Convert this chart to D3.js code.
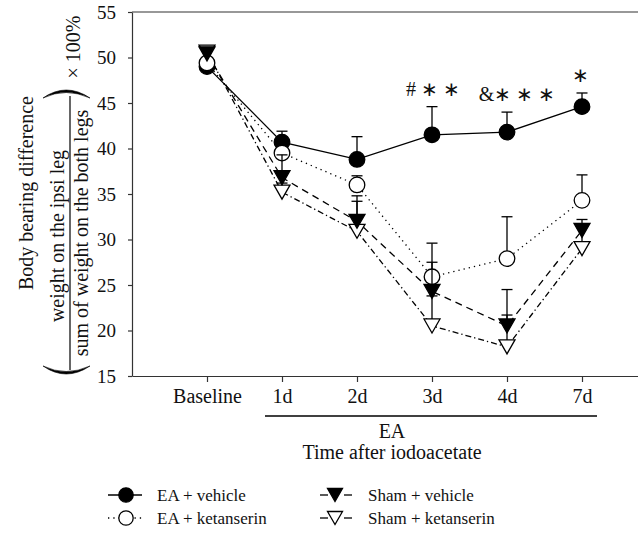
<!DOCTYPE html>
<html>
<head>
<meta charset="utf-8">
<script src="https://cdn.jsdelivr.net/npm/d3@7"></script>
<style>
  body { margin: 0; background: #fff; }
  text { font-family: "Liberation Serif", "Times New Roman", serif; fill: #111; }
</style>
</head>
<body>
<div id="chart"></div>
<script>
document.addEventListener("DOMContentLoaded", function() {

// Data (mean, upward error bar)
var days = ["Baseline", "1d", "2d", "3d", "4d", "7d"];
var eaVehicle      = [49.0, 40.7, 38.8, 41.5, 41.8, 44.6];
var eaVehicleErr   = [0.5, 1.2, 2.5, 3.1, 2.2, 1.5];
var eaKet          = [49.4, 39.5, 36.0, 25.9, 27.9, 34.3];
var eaKetErr       = [0.4, 1.0, 1.0, 3.7, 4.6, 2.8];
var shamVehicle    = [50.4, 36.8, 32.0, 24.3, 20.5, 31.0];
var shamVehicleErr = [0.5, 2.5, 2.8, 3.2, 4.0, 1.2];
var shamKet        = [50.6, 35.2, 30.9, 20.5, 18.2, 29.0];
var shamKetErr     = [0.6, 1.0, 3.3, 3.3, 3.5, 2.5];
var yTicks = [15, 20, 25, 30, 35, 40, 45, 50, 55];

var series = [
  {name: "EA + vehicle",      values: eaVehicle,   err: eaVehicleErr,   shape: "circle",   fill: "#000", dash: null},
  {name: "EA + ketanserin",   values: eaKet,       err: eaKetErr,       shape: "circle",   fill: "#fff", dash: "1.3,4"},
  {name: "Sham + ketanserin", values: shamKet,     err: shamKetErr,     shape: "triangle", fill: "#fff", dash: "6,3,1.3,3"},
  {name: "Sham + vehicle",    values: shamVehicle, err: shamVehicleErr, shape: "triangle", fill: "#000", dash: "7,5"}
];

var svg = d3.select("#chart")
  .append("svg")
  .attr("width", 638)
  .attr("height", 539);

var left = 132, top = 12, bottom = 376;

var x = d3.scalePoint()
  .domain(days)
  .range([left, 657])
  .padding(1);

var y = d3.scaleLinear()
  .domain([15, 55])
  .range([bottom, top]);

// axes
var yAxis = svg.append("g")
  .attr("transform", "translate(" + left + ",0)")
  .call(d3.axisLeft(y).tickValues(yTicks).tickSize(4).tickPadding(12).tickSizeOuter(0));
yAxis.selectAll("text").style("font-size", "19px");
yAxis.selectAll("path, line").attr("stroke", "#333").attr("stroke-width", 1.2);

var xAxis = svg.append("g")
  .attr("transform", "translate(0," + bottom + ")")
  .call(d3.axisBottom(x).tickSize(6).tickPadding(7).tickSizeOuter(0));
xAxis.selectAll("text").style("font-size", "20px");
xAxis.selectAll("path, line").attr("stroke", "#333").attr("stroke-width", 1.2);

// top frame line
svg.append("line")
  .attr("x1", left).attr("x2", 638)
  .attr("y1", top).attr("y2", top)
  .attr("stroke", "#333").attr("stroke-width", 1.2);

// connecting lines
var line = d3.line()
  .x(function(d, i) { return x(days[i]); })
  .y(function(d) { return y(d); });

series.forEach(function(s) {
  svg.append("path")
    .datum(s.values)
    .attr("d", line)
    .attr("fill", "none")
    .attr("stroke", "#000")
    .attr("stroke-width", 1.3)
    .attr("stroke-dasharray", s.dash);
});

function marker(g, shape, cx, cy, fill, r) {
  if (shape === "circle") {
    g.append("circle")
      .attr("cx", cx).attr("cy", cy).attr("r", r)
      .attr("fill", fill).attr("stroke", "#000").attr("stroke-width", 1.3);
  } else {
    var w = r + 0.5, h = r - 0.5;
    g.append("path")
      .attr("d", "M" + (cx - w) + "," + (cy - h) + "L" + (cx + w) + "," + (cy - h) + "L" + cx + "," + (cy + h) + "Z")
      .attr("fill", fill).attr("stroke", "#000").attr("stroke-width", 1.3)
      .attr("stroke-linejoin", "miter");
  }
}

// error bars + markers
var drawOrder = [0, 1, 2, 3];
drawOrder.forEach(function(k) {
  var s = series[k];
  var g = svg.append("g");
  s.values.forEach(function(v, i) {
    var cx = x(days[i]);
    g.append("line")
      .attr("x1", cx).attr("x2", cx)
      .attr("y1", y(v)).attr("y2", y(v + s.err[i]))
      .attr("stroke", "#000").attr("stroke-width", 1.3);
    g.append("line")
      .attr("x1", cx - 5.5).attr("x2", cx + 5.5)
      .attr("y1", y(v + s.err[i])).attr("y2", y(v + s.err[i]))
      .attr("stroke", "#000").attr("stroke-width", 1.3);
  });
  s.values.forEach(function(v, i) {
    marker(g, s.shape, x(days[i]), y(v), s.fill, s.shape === "circle" ? 7.8 : 7.5);
  });
});

// significance marks
var marks = [
  {day: "3d", value: eaVehicle[3] + eaVehicleErr[3], label: "# \u2217 \u2217", dx: 1},
  {day: "4d", value: eaVehicle[4] + eaVehicleErr[4], label: "&\u2217 \u2217 \u2217", dx: 10},
  {day: "7d", value: eaVehicle[5] + eaVehicleErr[5], label: "\u2217", dx: -2}
];
marks.forEach(function(m) {
  svg.append("text")
    .attr("x", x(m.day) + m.dx)
    .attr("y", y(m.value) - 11)
    .attr("text-anchor", "middle")
    .style("font-size", "20px")
    .text(m.label);
});

// EA bar under the axis
svg.append("line")
  .attr("x1", x("1d") - 17).attr("x2", x("7d") + 15)
  .attr("y1", 416).attr("y2", 416)
  .attr("stroke", "#000").attr("stroke-width", 1.3);
svg.append("text")
  .attr("x", 392).attr("y", 438)
  .attr("text-anchor", "middle")
  .style("font-size", "20px")
  .text("EA");
svg.append("text")
  .attr("x", 392).attr("y", 459)
  .attr("text-anchor", "middle")
  .style("font-size", "20px")
  .text("Time after iodoacetate");

// y axis label (rotated)
var yl = svg.append("g").attr("transform", "rotate(-90)");
yl.append("text")
  .attr("x", -193).attr("y", 33)
  .attr("text-anchor", "middle")
  .style("font-size", "20px")
  .text("Body bearing difference");
yl.append("text")
  .attr("x", -236).attr("y", 64)
  .attr("text-anchor", "middle")
  .style("font-size", "20px")
  .text("weight on the ipsi leg");
yl.append("text")
  .attr("x", -233).attr("y", 88)
  .attr("text-anchor", "middle")
  .style("font-size", "20px")
  .text("sum of weight on the both legs");
yl.append("text")
  .attr("x", -47).attr("y", 80)
  .attr("text-anchor", "middle")
  .style("font-size", "20px")
  .text("\u00d7 100%");
svg.append("line")
  .attr("x1", 70).attr("x2", 70)
  .attr("y1", 96).attr("y2", 370)
  .attr("stroke", "#000").attr("stroke-width", 1.2);
// big brackets
svg.append("path")
  .attr("d", "M43,98 Q66,82 90,98 Q66,87 43,98 Z")
  .attr("fill", "#000").attr("stroke", "#000").attr("stroke-width", 0.6);
svg.append("path")
  .attr("d", "M43,366 Q66,382 90,366 Q66,377 43,366 Z")
  .attr("fill", "#000").attr("stroke", "#000").attr("stroke-width", 0.6);

// legend
var legendItems = [
  {s: series[0], x: 108, y: 495},
  {s: series[1], x: 108, y: 518},
  {s: series[3], x: 320, y: 495},
  {s: series[2], x: 320, y: 518}
];
legendItems.forEach(function(it) {
  var g = svg.append("g");
  var s = it.s;
  if (s.shape === "circle") {
    g.append("line")
      .attr("x1", it.x).attr("x2", it.x + 34)
      .attr("y1", it.y).attr("y2", it.y)
      .attr("stroke", "#000").attr("stroke-width", 1.3)
      .attr("stroke-dasharray", s.dash);
    marker(g, "circle", it.x + 18, it.y, s.fill, 7.2);
  } else {
    g.append("line")
      .attr("x1", it.x).attr("x2", it.x + 8)
      .attr("y1", it.y).attr("y2", it.y)
      .attr("stroke", "#000").attr("stroke-width", 1.3);
    g.append("line")
      .attr("x1", it.x + 24).attr("x2", it.x + 32)
      .attr("y1", it.y).attr("y2", it.y)
      .attr("stroke", "#000").attr("stroke-width", 1.3);
    marker(g, "triangle", it.x + 15, it.y, s.fill, 7);
  }
  g.append("text")
    .attr("x", it.x + (s.shape === "circle" ? 49 : 48))
    .attr("y", it.y + 6)
    .style("font-size", "17px")
    .text(s.name);
});

});
</script>
</body>
</html>
